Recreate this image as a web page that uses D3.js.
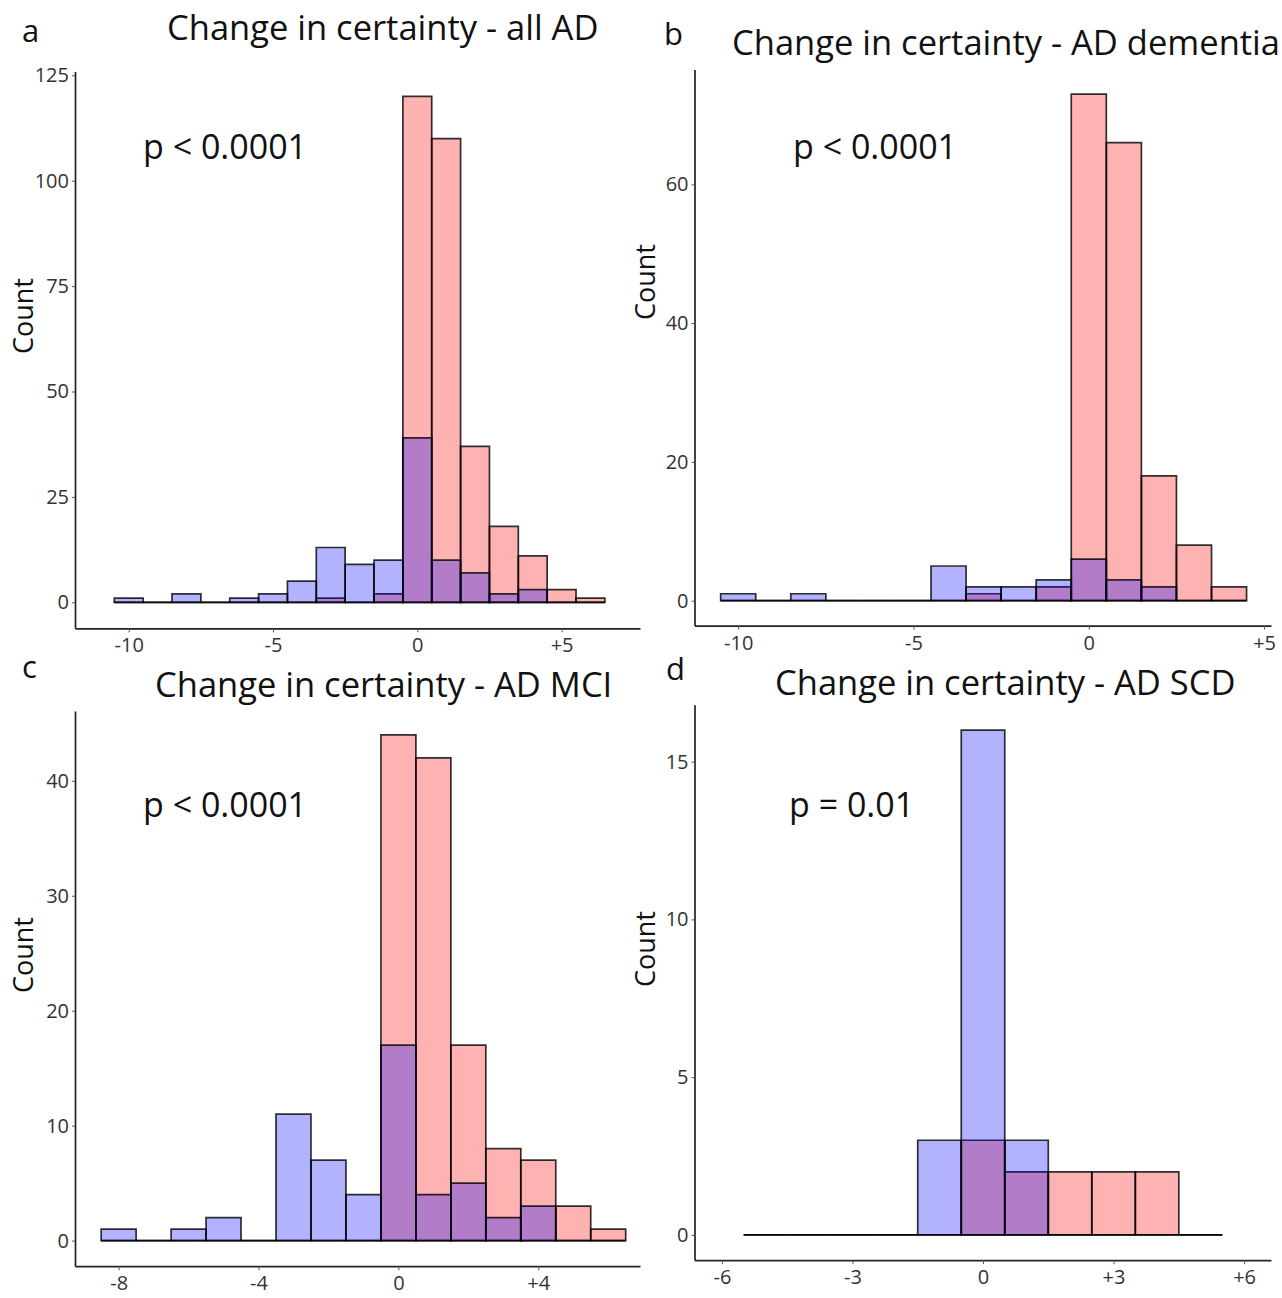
<!DOCTYPE html>
<html><head><meta charset="utf-8">
<script src="https://cdn.jsdelivr.net/npm/d3@7"></script>
<style>body{margin:0;background:#fff} svg{display:block}</style>
</head><body>
<svg id="chart" width="1282" height="1298"></svg>
<script>
// ---------- data ----------
const panelLetters = ['a', 'b', 'c', 'd'];
const titles = ['Change in certainty - all AD', 'Change in certainty - AD dementia', 'Change in certainty - AD MCI', 'Change in certainty - AD SCD'];
const pLabels = ['p < 0.0001', 'p < 0.0001', 'p < 0.0001', 'p = 0.01'];
const yTitle = 'Count';

const binsA = [-10, -9, -8, -7, -6, -5, -4, -3, -2, -1, 0, 1, 2, 3, 4, 5, 6];
const blueA = [1, 0, 2, 0, 1, 2, 5, 13, 9, 10, 39, 10, 7, 2, 3, 0, 0];
const redA  = [0, 0, 0, 0, 0, 0, 0, 1, 0, 2, 120, 110, 37, 18, 11, 3, 1];
const xTicksA = [-10, -5, 0, 5];
const yTicksA = [0, 25, 50, 75, 100, 125];

const binsB = [-10, -9, -8, -7, -6, -5, -4, -3, -2, -1, 0, 1, 2, 3, 4];
const blueB = [1, 0, 1, 0, 0, 0, 5, 2, 2, 3, 6, 3, 2, 0, 0];
const redB  = [0, 0, 0, 0, 0, 0, 0, 1, 0, 2, 73, 66, 18, 8, 2];
const xTicksB = [-10, -5, 0, 5];
const yTicksB = [0, 20, 40, 60];

const binsC = [-8, -7, -6, -5, -4, -3, -2, -1, 0, 1, 2, 3, 4, 5, 6];
const blueC = [1, 0, 1, 2, 0, 11, 7, 4, 17, 4, 5, 2, 3, 0, 0];
const redC  = [0, 0, 0, 0, 0, 0, 0, 0, 44, 42, 17, 8, 7, 3, 1];
const xTicksC = [-8, -4, 0, 4];
const yTicksC = [0, 10, 20, 30, 40];

const binsD = [-5, -4, -3, -2, -1, 0, 1, 2, 3, 4, 5];
const blueD = [0, 0, 0, 0, 3, 16, 3, 0, 0, 0, 0];
const redD  = [0, 0, 0, 0, 0, 3, 2, 2, 2, 2, 0];
const xTicksD = [-6, -3, 0, 3, 6];
const yTicksD = [0, 5, 10, 15];

// ---------- layout (pixels) ----------
const layout = [
  {left: 75, right: 640, top: 71.5, bottom: 628.3, x0: 417.3, xu: 28.86, y0: 602.3, yu: 4.216,
   letter: [22, 42], title: [167, 40], p: [143, 159], count: [33, 316]},
  {left: 694.5, right: 1271, top: 69.6, bottom: 625.6, x0: 1088.8, xu: 35.06, y0: 600.7, yu: 6.94,
   letter: [664, 45], title: [732, 55], p: [793, 159], count: [655, 282]},
  {left: 75, right: 640, top: 710.9, bottom: 1266.2, x0: 398.4, xu: 34.97, y0: 1240.6, yu: 11.495,
   letter: [22, 678], title: [155, 697], p: [143, 817], count: [33, 955]},
  {left: 694.5, right: 1271, top: 704.8, bottom: 1260.1, x0: 983, xu: 43.52, y0: 1234.9, yu: 31.55,
   letter: [666, 680], title: [775, 695], p: [789, 817], count: [655, 949]}
];

const data = [
  {bins: binsA, blue: blueA, red: redA, xt: xTicksA, yt: yTicksA},
  {bins: binsB, blue: blueB, red: redB, xt: xTicksB, yt: yTicksB},
  {bins: binsC, blue: blueC, red: redC, xt: xTicksC, yt: yTicksC},
  {bins: binsD, blue: blueD, red: redD, xt: xTicksD, yt: yTicksD}
];

const FONT = "'Open Sans', 'Noto Sans', sans-serif";
const svg = d3.select('#chart');

data.forEach((d, i) => {
  const L = layout[i];
  const x = d3.scaleLinear()
    .domain([(L.left - L.x0) / L.xu, (L.right - L.x0) / L.xu])
    .range([L.left, L.right]);
  const y = d3.scaleLinear()
    .domain([(L.y0 - L.bottom) / L.yu, (L.y0 - L.top) / L.yu])
    .range([L.bottom, L.top]);

  const g = svg.append('g');

  // bars: red first, then blue on top (overlap becomes purple)
  const series = [
    {vals: d.red, color: '#ff0000'},
    {vals: d.blue, color: '#0000ff'}
  ];
  series.forEach(s => {
    g.append('g').selectAll('path')
      .data(d.bins.map((b, j) => ({b, v: s.vals[j]})))
      .join('path')
      .attr('d', e => {
        const xa = x(e.b - 0.5), xb = x(e.b + 0.5), ya = y(0), yb = y(e.v);
        return `M${xa},${ya}V${yb}H${xb}V${ya}Z`;
      })
      .attr('fill', s.color)
      .attr('fill-opacity', 0.3)
      .attr('stroke', '#000')
      .attr('stroke-opacity', 0.8)
      .attr('stroke-width', 1.7);
  });

  // axes
  const fmtX = v => (v > 0 ? '+' + v : String(v));
  const ax = g.append('g').attr('transform', `translate(0,${L.bottom})`)
    .call(d3.axisBottom(x).tickValues(d.xt).tickFormat(fmtX).tickSize(4).tickSizeOuter(0).tickPadding(6));
  const ay = g.append('g').attr('transform', `translate(${L.left},0)`)
    .call(d3.axisLeft(y).tickValues(d.yt).tickFormat(v => String(v)).tickSize(3).tickSizeOuter(0).tickPadding(3));
  [ax, ay].forEach(a => {
    a.select('.domain').attr('stroke', '#222').attr('stroke-width', 1.7);
    a.selectAll('.tick line').attr('stroke', '#555').attr('stroke-width', 1);
    a.selectAll('.tick text').attr('fill', '#333').style('font-family', FONT).style('font-size', '20px');
  });

  // texts
  svg.append('text').attr('x', L.letter[0]).attr('y', L.letter[1])
    .style('font-family', FONT).style('font-size', '31px').attr('fill', '#111')
    .text(panelLetters[i]);
  svg.append('text').attr('x', L.title[0]).attr('y', L.title[1])
    .style('font-family', FONT).style('font-size', '34.5px').attr('fill', '#111')
    .text(titles[i]);
  svg.append('text').attr('x', L.p[0]).attr('y', L.p[1])
    .style('font-family', FONT).style('font-size', '34px').attr('fill', '#111')
    .text(pLabels[i]);
  svg.append('text')
    .attr('transform', `translate(${L.count[0]},${L.count[1]}) rotate(-90)`)
    .attr('text-anchor', 'middle')
    .style('font-family', FONT).style('font-size', '27px').attr('fill', '#111')
    .text(yTitle);
});
</script>
</body></html>
